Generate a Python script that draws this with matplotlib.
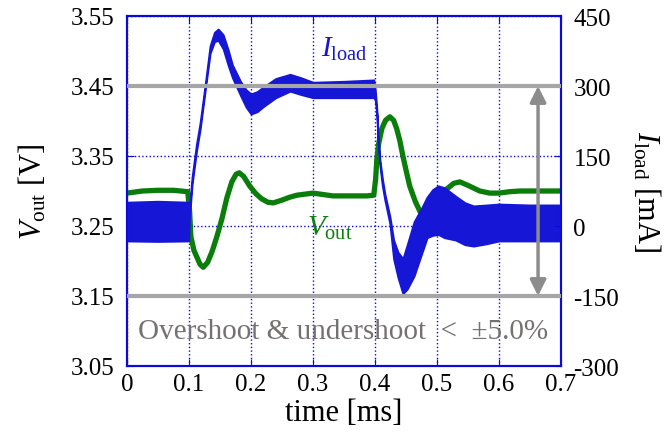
import numpy as np
import matplotlib.pyplot as plt

plt.rcParams['font.family'] = 'Liberation Serif'
plt.rcParams['mathtext.fontset'] = 'custom'
plt.rcParams['mathtext.rm'] = 'Liberation Serif'
plt.rcParams['mathtext.it'] = 'Liberation Serif:italic'
plt.rcParams['axes.unicode_minus'] = False

# output voltage V_out [V] vs time [ms]
t_v = [0.000, 0.025, 0.050, 0.075, 0.098, 0.101, 0.103, 0.108, 0.113, 0.118,
       0.123, 0.130, 0.137, 0.145, 0.153, 0.161, 0.169, 0.176, 0.181, 0.188,
       0.198, 0.208, 0.217, 0.227, 0.236, 0.250, 0.262, 0.274, 0.300, 0.332,
       0.360, 0.387, 0.398, 0.401, 0.403, 0.406, 0.411, 0.417, 0.424, 0.430,
       0.435, 0.440, 0.445, 0.450, 0.456, 0.465, 0.473, 0.478, 0.485, 0.495,
       0.505, 0.516, 0.527, 0.537, 0.550, 0.569, 0.585, 0.600, 0.617, 0.634,
       0.660, 0.700]
v_out = [3.297, 3.300, 3.301, 3.301, 3.299, 3.270, 3.235, 3.215, 3.205, 3.195,
         3.191, 3.198, 3.213, 3.235, 3.260, 3.290, 3.313, 3.324, 3.326, 3.321,
         3.307, 3.296, 3.289, 3.284, 3.283, 3.287, 3.291, 3.294, 3.297, 3.293,
         3.293, 3.293, 3.294, 3.317, 3.345, 3.368, 3.389, 3.401, 3.406, 3.401,
         3.389, 3.372, 3.350, 3.330, 3.307, 3.285, 3.270, 3.266, 3.268, 3.280,
         3.292, 3.303, 3.311, 3.313, 3.308, 3.300, 3.297, 3.297, 3.299, 3.300,
         3.300, 3.300]

# load current I_load [mA]: upper / lower edge of the ripple band
t_i = [0.000, 0.050, 0.0995, 0.1005, 0.105, 0.112, 0.118, 0.126, 0.134, 0.141,
       0.147, 0.155, 0.163, 0.170, 0.183, 0.192, 0.200, 0.210, 0.220, 0.240,
       0.263, 0.280, 0.300, 0.350, 0.398, 0.4005, 0.403, 0.405, 0.408, 0.412,
       0.416, 0.424, 0.430, 0.437, 0.445, 0.452, 0.463, 0.475, 0.484, 0.493,
       0.502, 0.512, 0.530, 0.545, 0.559, 0.580, 0.600, 0.650, 0.700]
i_hi = [51, 53, 51, 35, 105, 175, 222, 302, 386, 415,
        422, 410, 378, 345, 310, 292, 283, 288, 298, 316,
        325, 318, 308, 310, 313, 290, 248, 190, 140, 100,
        68, 20, -30, -56, -70, -40, 9, 38, 62, 78,
        86, 82, 64, 50, 43, 45, 47, 45, 45]
i_lo = [-32, -33, -32, 15, 90, 160, 208, 290, 370, 395,
        398, 380, 345, 318, 280, 255, 240, 245, 256, 275,
        289, 282, 275, 275, 275, 270, 238, 178, 128, 85,
        55, 5, -70, -110, -145, -135, -107, -60, -25, -20,
        -18, -25, -30, -40, -43, -38, -32, -32, -32]

limits_ma = [300, -150]
note = 'Overshoot & undershoot  <  ±5.0%'

blue = '#0a0ae0'
fig = plt.figure(figsize=(6.72, 4.39), dpi=100)
ax1 = fig.add_axes([127/672, 1-367/439, 434/672, 350/439])
ax2 = ax1.twinx()

ax1.plot(t_v, v_out, color='#0b7d0b', lw=3.8, solid_joinstyle='round')
ax2.fill_between(t_i, i_lo, i_hi, color='#1616d6', lw=1.4)
for lim in limits_ma:
    ax2.axhline(lim, color='#a6a6a6', lw=3, zorder=3)
ax2.annotate('', xy=(0.663, limits_ma[1]), xytext=(0.663, limits_ma[0]),
             arrowprops=dict(arrowstyle='<|-|>', color='#8c8c8c', lw=2.5,
                             mutation_scale=24, shrinkA=0, shrinkB=0), zorder=4)
ax2.text(0.349, -225, note, ha='center', va='center', color='#767171', fontsize=21)
ax2.text(0.35, 380, r'$I_{\rm load}$', ha='center', va='center', color='#1515d0', fontsize=21)
ax2.text(0.327, -2, r'$V_{\rm out}$', ha='center', va='center', color='#0b7d0b', fontsize=21)

ax1.set_xlim(0, 0.7)
ax1.set_ylim(3.05, 3.55)
ax2.set_ylim(-300, 450)
ax1.set_xticks(np.arange(0, 0.71, 0.1))
ax1.set_xticklabels(['0', '0.1', '0.2', '0.3', '0.4', '0.5', '0.6', '0.7'])
ax1.set_yticks([3.05, 3.15, 3.25, 3.35, 3.45, 3.55])
ax1.set_yticklabels(['3.05', '3.15', '3.25', '3.35', '3.45', '3.55'])
ax2.set_yticks([-300, -150, 0, 150, 300, 450])
ax1.grid(color=blue, ls=':', lw=1)

for ax in (ax1, ax2):
    for s in ax.spines.values():
        s.set_color(blue)
        s.set_linewidth(1.5)
ax1.tick_params(axis='x', direction='in', top=True, color=blue, length=5, labelsize=18, pad=5)
ax1.tick_params(axis='y', direction='in', color=blue, length=5, labelsize=18, pad=9)
ax2.tick_params(axis='y', direction='in', color=blue, length=5, labelsize=18, pad=9)

ax1.set_xlabel('time [ms]', fontsize=22, labelpad=2)
ax1.set_ylabel(r'$V_{\rm out}$ [V]', fontsize=22, labelpad=16)
ax2.set_ylabel(r'$I_{\rm load}$ [mA]', fontsize=22, rotation=270, va='bottom', labelpad=8)

fig.savefig('out.png', dpi=100)
